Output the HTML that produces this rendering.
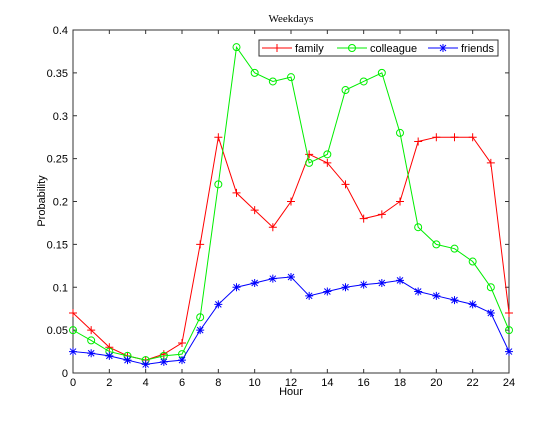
<!DOCTYPE html>
<html><head><meta charset="utf-8"><style>
body{margin:0;background:#fff}
svg text{font-family:"Liberation Sans",sans-serif;font-size:11px;fill:#000}
</style></head><body>
<svg id="c" width="560" height="420" xmlns="http://www.w3.org/2000/svg"></svg>
<script>
const hours=[0,1,2,3,4,5,6,7,8,9,10,11,12,13,14,15,16,17,18,19,20,21,22,23,24];
const family=[0.07,0.05,0.03,0.02,0.015,0.022,0.035,0.15,0.275,0.21,0.19,0.17,0.2,0.255,0.245,0.22,0.18,0.185,0.2,0.27,0.275,0.275,0.275,0.245,0.07];
const colleague=[0.05,0.038,0.025,0.02,0.015,0.02,0.022,0.065,0.22,0.38,0.35,0.34,0.345,0.245,0.255,0.33,0.34,0.35,0.28,0.17,0.15,0.145,0.13,0.1,0.05];
const friends=[0.025,0.023,0.02,0.015,0.01,0.013,0.015,0.05,0.08,0.1,0.105,0.11,0.112,0.09,0.095,0.1,0.103,0.105,0.108,0.095,0.09,0.085,0.08,0.07,0.025];
const xTicks=[0,2,4,6,8,10,12,14,16,18,20,22,24];
const yTicks=[0,0.05,0.1,0.15,0.2,0.25,0.3,0.35,0.4];
const yLabels=["0","0.05","0.1","0.15","0.2","0.25","0.3","0.35","0.4"];
const L=73,R=509,T=30,B=373;
const sx=v=>L+(v-0)/(24-0)*(R-L);
const sy=v=>B-v/0.4*(B-T);
const svg=document.getElementById('c');
const NS="http://www.w3.org/2000/svg";
function mk(t,a,p){const e=document.createElementNS(NS,t);for(const k in a)e.setAttribute(k,a[k]);(p||svg).appendChild(e);return e;}
const frame=mk('rect',{x:L,y:T,width:R-L,height:B-T,fill:'none',stroke:'#333','stroke-width':1});


xTicks.forEach(v=>{const x=sx(v);
mk('line',{x1:x,x2:x,y1:B,y2:B-4,stroke:'#333'});mk('line',{x1:x,x2:x,y1:T,y2:T+4,stroke:'#333'});
const t=mk('text',{x:x,y:B+13,'text-anchor':'middle'});t.textContent=v;

});
yTicks.forEach((v,i)=>{const y=sy(v);
mk('line',{x1:L,x2:L+4,y1:y,y2:y,stroke:'#333'});mk('line',{x1:R,x2:R-4,y1:y,y2:y,stroke:'#333'});
const t=mk('text',{x:L-5,y:y+4,'text-anchor':'end'});t.textContent=yLabels[i];

});
function marker(g,type,x,y,col){
 if(type==='plus'){mk('path',{d:`M${x-4} ${y}H${x+4}M${x} ${y-4}V${y+4}`,stroke:col,fill:'none'},g);}
 else if(type==='circle'){mk('circle',{cx:x,cy:y,r:3.5,stroke:col,fill:'none'},g);}
 else {mk('path',{d:`M${x-4} ${y}H${x+4}M${x} ${y-4}V${y+4}M${x-3} ${y-3}L${x+3} ${y+3}M${x-3} ${y+3}L${x+3} ${y-3}`,stroke:col,fill:'none'},g);}
}
const series=[[family,'#f00','plus','family-series'],[colleague,'#0e0','circle','colleague-series'],[friends,'#00f','star','friends-series']];
series.forEach(([d,col,m,name])=>{const g=mk('g',{});


mk('polyline',{points:d.map((v,i)=>sx(hours[i])+','+sy(v)).join(' '),fill:'none',stroke:col},g);
d.forEach((v,i)=>marker(g,m,sx(hours[i]),sy(v),col));});
// legend
const lg=mk('g',{});


mk('rect',{x:259,y:40,width:239,height:16,fill:'#fff',stroke:'#333'},lg);
const ents=[['family','#f00','plus',262],['colleague','#0e0','circle',337],['friends','#00f','star',428]];
ents.forEach(([n,col,m,x0])=>{const g=mk('g',{},lg);


mk('line',{x1:x0,x2:x0+30,y1:48,y2:48,stroke:col},g);marker(g,m,x0+15,48,col);
const t=mk('text',{x:x0+33,y:52,'font-size':'12px'},g);t.textContent=n;});
const title=mk('text',{x:291,y:22,'text-anchor':'middle',style:'font-family:"Liberation Serif",serif;font-size:11px'});title.textContent='Weekdays';


const xl=mk('text',{x:291,y:395,'text-anchor':'middle'});xl.textContent='Hour';


const yl=mk('text',{x:0,y:0,'text-anchor':'middle',transform:'translate(45,201) rotate(-90)'});yl.textContent='Probability';


</script>
</body></html>
